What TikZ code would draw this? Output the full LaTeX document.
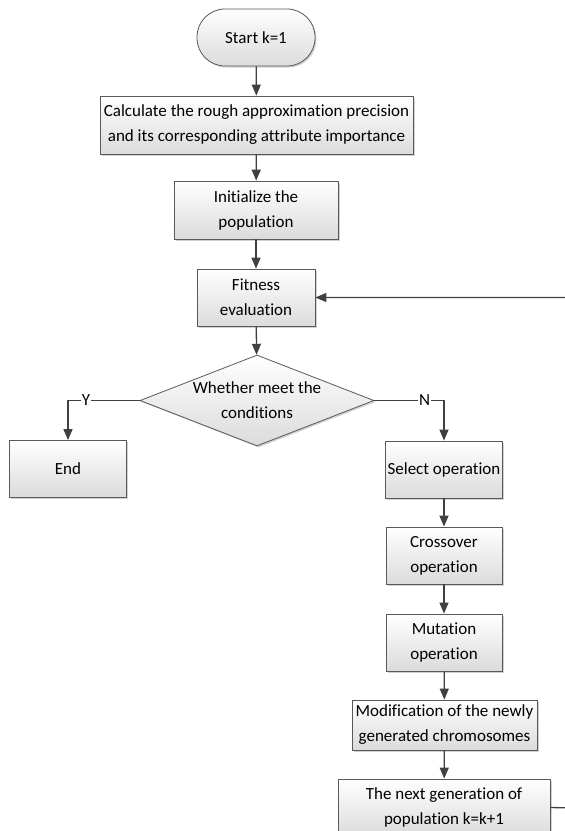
\documentclass[tikz,border=0pt]{standalone}
\usepackage{fontspec}
\setmainfont{Carlito}[Ligatures=NoCommon]
\usepackage{tikz}
\usetikzlibrary{arrows.meta,shapes.geometric,shadows}
\usetikzlibrary{positioning}
\tikzset{
    box/.style={
           rectangle,
           draw=black!65, line width=0.8pt,
           top color=white, bottom color=black!14,
           drop shadow={shadow xshift=1.5pt, shadow yshift=-1.5pt, fill=black!18, opacity=1},
           align=center, inner sep=2pt,
           font=\fontsize{17}{25}\selectfont,
           },
    terminal/.style={
           box, rounded corners=28pt,
           },
    decision/.style={
           box, diamond, aspect=2.57, inner sep=0pt,
           },
    flowline/.style={
           draw=black!75, line width=1.3pt,
           -{Triangle[length=11pt, width=9pt]},
           },
    flowlabel/.style={
           fill=white, inner sep=1pt,
           font=\fontsize{17}{20}\selectfont,
           },
}

\begin{document}
\begin{tikzpicture}[x=1pt, y=-1pt]
\useasboundingbox (0,0) rectangle (565,831);
% main column
\node[terminal, minimum width=118pt, minimum height=57pt] (start) at (256,37.5) {Start k=1};
\node[box, minimum width=313pt, minimum height=58pt] (calc) at (256.5,125) {Calculate the rough approximation precision\\and its corresponding attribute importance};
\node[box, minimum width=164pt, minimum height=58pt] (init) at (256,210) {Initialize the\\population};
\node[box, minimum width=118pt, minimum height=57pt] (fit) at (256,297.5) {Fitness\\evaluation};
\node[decision, minimum width=234pt, minimum height=91pt] (cond) at (257,400.5) {Whether meet the\\conditions};
\node[box, minimum width=117pt, minimum height=57pt] (end) at (68,469) {End};
% right column
\node[box, minimum width=116pt, minimum height=57pt] (sel) at (444,469.5) {Select operation};
\node[box, minimum width=116pt, minimum height=57pt] (cross) at (444,555.5) {Crossover\\operation};
\node[box, minimum width=116pt, minimum height=57pt] (mut) at (444,642.5) {Mutation\\operation};
\node[box, minimum width=185pt, minimum height=50pt] (mod) at (444.5,725) {Modification of the newly\\generated chromosomes};
\node[box, minimum width=212pt, minimum height=57pt] (next) at (444,807.5) {The next generation of\\population k=k+1};
\coordinate (loop) at (575,808);

\draw[flowline] (start) -- (calc);
\draw[flowline] (calc) -- (init);
\draw[flowline] (init) -- (fit);
\draw[flowline] (fit) -- (cond);
\draw[flowline] (cond.west) -| node[flowlabel, pos=0.375] {Y} (end.north);
\draw[flowline] (cond.east) -| node[flowlabel, pos=0.36] {N} (sel.north);
\draw[flowline] (sel) -- (cross);
\draw[flowline] (cross) -- (mut);
\draw[flowline] (mut) -- (mod);
\draw[flowline] (mod) -- (next);
\draw[flowline] (next.east) -- (loop) |- (fit.east);
\end{tikzpicture}
\end{document}
